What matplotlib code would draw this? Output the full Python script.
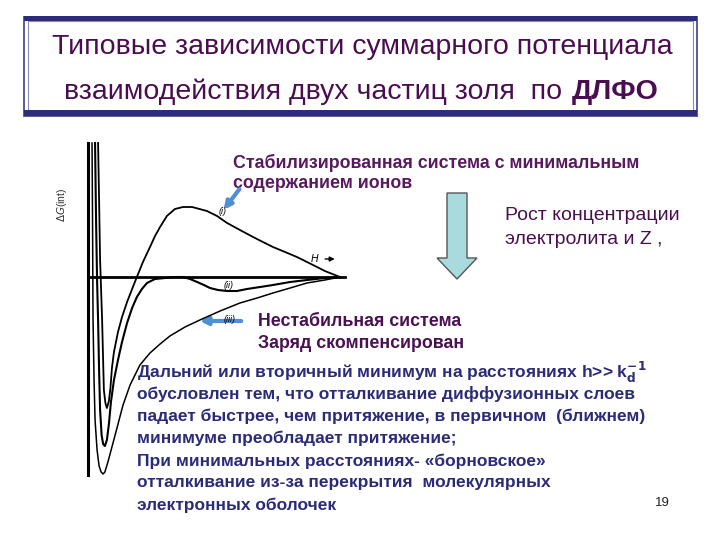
import matplotlib.pyplot as plt
from matplotlib.patches import Rectangle, Polygon
import numpy as np

plt.rcParams['font.family'] = ['Liberation Sans', 'DejaVu Sans']

# --- curve data: separation H (arb. units) vs total interaction energy dG (arb. units)
h_i = [0.40, 0.44, 0.48, 0.56, 0.60, 0.63, 0.69, 0.75, 0.83, 0.89, 0.95, 1.03, 1.19, 1.35,
       1.55, 1.75, 1.94, 2.18, 2.46, 2.66, 2.86, 3.13, 3.45, 3.77, 4.13, 4.72, 5.12, 5.52,
       6.03, 6.55, 6.94, 7.34, 7.82, 8.29, 8.61, 8.93, 9.40, 10.0]
g_i = [13.4, 7.7, 1.7, -4.3, -8.3, -11.3, -12.6, -13.1, -12.4, -11.1, -9.1, -7.5, -5.5, -4.0,
       -2.5, -1.2, 0.0, 1.5, 3.0, 4.1, 5.0, 6.1, 6.8, 7.0, 7.0, 6.6, 6.1, 5.4,
       4.7, 4.0, 3.5, 3.0, 2.5, 2.0, 1.6, 1.2, 0.6, 0.0]

h_ii = [0.28, 0.32, 0.36, 0.40, 0.44, 0.48, 0.54, 0.60, 0.67, 0.75, 0.83, 0.91, 1.03, 1.19,
        1.35, 1.55, 1.75, 1.94, 2.14, 2.34, 2.66, 3.06, 3.45, 3.77, 4.05, 4.33, 4.60, 4.84,
        5.16, 5.52, 5.91, 6.31, 6.83, 7.34, 8.02, 8.69, 9.40, 10.0]
g_ii = [13.4, 5.7, -0.3, -4.3, -9.3, -13.3, -15.8, -16.7, -16.9, -16.3, -14.7, -12.5, -10.3, -8.3,
        -6.5, -4.6, -3.1, -2.0, -1.2, -0.6, -0.2, -0.1, 0.0, 0.0, -0.2, -0.5, -0.8, -1.1,
        -1.3, -1.4, -1.4, -1.2, -1.0, -0.8, -0.5, -0.3, -0.1, 0.0]

h_iii = [0.16, 0.18, 0.20, 0.24, 0.28, 0.36, 0.44, 0.52, 0.60, 0.67, 0.79, 0.95, 1.15, 1.39,
         1.67, 2.06, 2.46, 2.86, 3.25, 3.85, 4.44, 5.24, 6.03, 6.71, 7.34, 8.02, 8.69, 9.40, 10.0]
g_iii = [13.4, 5.7, -4.3, -10.3, -14.3, -17.3, -18.9, -19.5, -19.7, -19.5, -18.5, -17.0, -15.1, -12.8,
         -10.8, -8.8, -7.6, -6.7, -5.9, -5.0, -4.3, -3.4, -2.6, -2.1, -1.6, -1.1, -0.6, -0.3, 0.0]

title_1 = 'Типовые зависимости суммарного потенциала'
title_2 = 'взаимодействия двух частиц золя  по'
title_2b = 'ДЛФО'
stable_txt = ['Стабилизированная система с минимальным', 'содержанием ионов']
grow_txt = ['Рост концентрации', 'электролита и Z ,']
unstable_txt = ['Нестабильная система', 'Заряд скомпенсирован']
body_txt = [r'Дальний или вторичный минимум на расстояниях h>> k$_\mathbf{d}^\mathbf{-1}$',
            'обусловлен тем, что отталкивание диффузионных слоев',
            'падает быстрее, чем притяжение, в первичном  (ближнем)',
            'минимуме преобладает притяжение;',
            'При минимальных расстояниях- «борновское»',
            'отталкивание из-за перекрытия  молекулярных',
            'электронных оболочек']

purple = '#4a0e50'
navy = '#2b2b78'
blue = '#4f8fd3'

fig = plt.figure(figsize=(7.2, 5.4), dpi=100)

# slide layer in pixel-like layout units
bg = fig.add_axes([0, 0, 1, 1])
bg.set_xlim(0, 720)
bg.set_ylim(540, 0)
bg.axis('off')

# title box
bg.add_patch(Rectangle((24, 17), 673, 99, fill=False, edgecolor='#5a5a96', lw=1.4))
bg.add_patch(Rectangle((28, 21), 665, 91, fill=False, edgecolor='#8a8ab8', lw=0.8))
bg.add_patch(Rectangle((24, 16), 673, 5, color='#2c2c7a', lw=0))
bg.add_patch(Rectangle((24, 110), 673, 6, color='#2c2c7a', lw=0))
bg.text(362, 47, title_1, ha='center', va='center', fontsize=20.5, color=purple)
t2 = bg.text(64, 92, title_2, ha='left', va='center', fontsize=20.5, color=purple)
bg.annotate(title_2b, xy=(1, 0), xycoords=t2, xytext=(7, 0), textcoords='offset points',
            ha='left', va='bottom', fontsize=20.5, color=purple, fontweight='bold')

# labels
for k, s in enumerate(stable_txt):
    bg.text(233, 163 + 20 * k, s, ha='left', va='center', fontsize=12.8,
            color='#5a1860', fontweight='bold')
for k, s in enumerate(grow_txt):
    bg.text(505, 216 + 24 * k, s, ha='left', va='center', fontsize=14, color=purple)
for k, s in enumerate(unstable_txt):
    bg.text(258, 321 + 22 * k, s, ha='left', va='center', fontsize=12.8,
            color='#4a1052', fontweight='bold')
for k, s in enumerate(body_txt):
    bg.text(137, 372 + 22.2 * k, s, ha='left', va='center', fontsize=12.5,
            color=navy, fontweight='bold')
bg.text(662, 503, '19', ha='center', va='center', fontsize=9.5, color='#222222')

# big down arrow
bg.add_patch(Polygon([(447, 193), (467, 193), (467, 258), (477, 258), (457, 279),
                      (437, 258), (447, 258)], closed=True, facecolor='#a9dadd',
                     edgecolor='#555555', lw=1))

# blue pointer arrows
bg.annotate('', xy=(222, 212), xytext=(241, 187),
            arrowprops=dict(arrowstyle='-|>', color=blue, lw=3, mutation_scale=11))
bg.annotate('', xy=(197, 321), xytext=(244, 321),
            arrowprops=dict(arrowstyle='-|>', color=blue, lw=3, mutation_scale=11))

# DLVO graph
ax = fig.add_axes([75.4 / 720, 53 / 540, 277.2 / 720, 355 / 540])
ax.set_xlim(-0.5, 10.5)
ax.set_ylim(-21, 14.5)
ax.patch.set_alpha(0)
ax.axis('off')

ax.plot([0, 0], [-19.8, 13.4], color='black', lw=2.2)
ax.plot([0, 10.2], [0, 0], color='black', lw=2)
ax.plot(h_i, g_i, color='black', lw=1.3)
ax.plot(h_ii, g_ii, color='black', lw=1.5)
ax.plot(h_iii, g_iii, color='black', lw=1.1)

ax.text(-1.03, 7.2, r'$\Delta G$(int)', rotation=90, ha='center', va='center',
        fontsize=7.5, color='#333333')
ax.text(9.0, 1.8, 'H', style='italic', ha='center', va='center', fontsize=7.5)
ax.annotate('', xy=(9.9, 1.8), xytext=(9.3, 1.8),
            arrowprops=dict(arrowstyle='-|>', color='black', lw=1, mutation_scale=7))
ax.text(5.36, 6.6, '(i)', style='italic', ha='center', va='center', fontsize=6.5)
ax.text(5.56, -0.9, '(ii)', style='italic', ha='center', va='center', fontsize=6.5)
ax.text(5.63, -4.3, '(iii)', style='italic', ha='center', va='center', fontsize=6.5)

fig.savefig('out.png', dpi=100)
